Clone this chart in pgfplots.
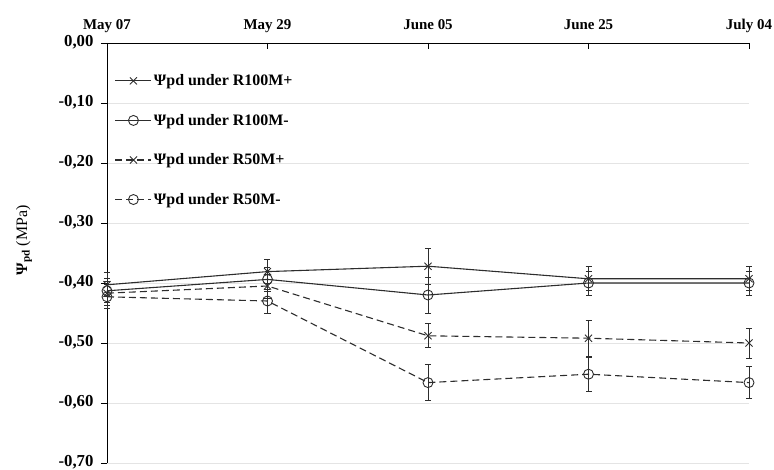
\documentclass[border=0pt]{standalone}
\usepackage{fontspec}
\setmainfont{Liberation Serif}
\usepackage{pgfplots}
\pgfplotsset{compat=1.18}

\definecolor{gridgray}{RGB}{228,228,228}
\definecolor{linegray}{RGB}{45,45,45}

\newcommand{\xtickfont}{\fontsize{15}{17}\selectfont\bfseries}
\newcommand{\ytickfont}{\fontsize{16.8}{18}\selectfont\bfseries}
\newcommand{\legfont}{\fontsize{16}{18}\selectfont\bfseries}

\begin{document}
\begin{tikzpicture}
\begin{axis}[
  scale only axis,
  width=642bp, height=420bp,
  xmin=0, xmax=4, ymin=-0.7, ymax=0,
  clip=false,
  axis x line*=top,
  axis y line*=left,
  axis line style={black, line width=0.8pt, -},
  xtick={0,1,2,3,4},
  xticklabels={May 07, May 29, June 05, June 25, July 04},
  ytick={0,-0.1,-0.2,-0.3,-0.4,-0.5,-0.6,-0.7},
  yticklabels={{0,00},{-0,10},{-0,20},{-0,30},{-0,40},{-0,50},{-0,60},{-0,70}},
  xtick align=inside,
  ytick align=outside,
  major tick length=6bp,
  tick style={black, line width=0.6pt},
  ymajorgrids,
  grid style={gridgray, line width=0.6pt},
  typeset ticklabels with strut,
  xticklabel style={font=\xtickfont, yshift=5bp},
  yticklabel style={font=\ytickfont, xshift=-4bp},
  every axis y label/.style={at={(rel axis cs:0,0.53)}, xshift=-83bp, rotate=90, anchor=center},
  ylabel={\fontsize{16}{18}\selectfont\textbf{Ψ\textsubscript{pd}} (MPa)},
  legend style={draw=none, fill=none, at={(0.012,0.93)}, anchor=north west,
    font=\legfont, row sep=23bp, inner sep=0pt, nodes={inner sep=2bp}},
  legend cell align=left,
  legend image code/.code={
    \draw[#1, mark repeat=2, mark phase=2] plot coordinates {(0bp,0bp) (18bp,0bp) (36bp,0bp)};
  },
  error bars/y dir=both,
  error bars/y explicit,
  error bars/error bar style={linegray, line width=0.8pt, solid},
  error bars/error mark options={rotate=90, mark size=3bp, linegray, line width=0.8pt, solid},
  every axis plot/.append style={line width=1.1pt, mark size=5bp, mark options={solid, line width=0.9pt, fill=none}},
]
\coordinate (bl) at (rel axis cs:0,0);
\coordinate (tr) at (rel axis cs:1,1);
% R100M+
\addplot[linegray, solid, mark=x] coordinates {
  (0,-0.403) +- (0,0.020)
  (1,-0.381) +- (0,0.020)
  (2,-0.372) +- (0,0.030)
  (3,-0.393) +- (0,0.020)
  (4,-0.393) +- (0,0.020)
};
\addlegendentry{Ψpd under R100M+}
% R100M-
\addplot[linegray, solid, mark=o] coordinates {
  (0,-0.413) +- (0,0.020)
  (1,-0.394) +- (0,0.020)
  (2,-0.420) +- (0,0.030)
  (3,-0.400) +- (0,0.020)
  (4,-0.400) +- (0,0.020)
};
\addlegendentry{Ψpd under R100M-}
% R50M+
\addplot[linegray, dash pattern=on 7bp off 4bp, mark=x] coordinates {
  (0,-0.417) +- (0,0.020)
  (1,-0.405) +- (0,0.020)
  (2,-0.488) +- (0,0.020)
  (3,-0.492) +- (0,0.030)
  (4,-0.500) +- (0,0.025)
};
\addlegendentry{Ψpd under R50M+}
% R50M-
\addplot[linegray, dash pattern=on 7bp off 4bp, mark=o] coordinates {
  (0,-0.423) +- (0,0.020)
  (1,-0.430) +- (0,0.020)
  (2,-0.566) +- (0,0.030)
  (3,-0.552) +- (0,0.028)
  (4,-0.566) +- (0,0.027)
};
\addlegendentry{Ψpd under R50M-}
\end{axis}
% fixed page frame around the plot area
\pgfresetboundingbox
\path ([shift={(-107bp,-7bp)}]bl) rectangle ([shift={(25bp,43bp)}]tr);
\end{tikzpicture}
\end{document}
